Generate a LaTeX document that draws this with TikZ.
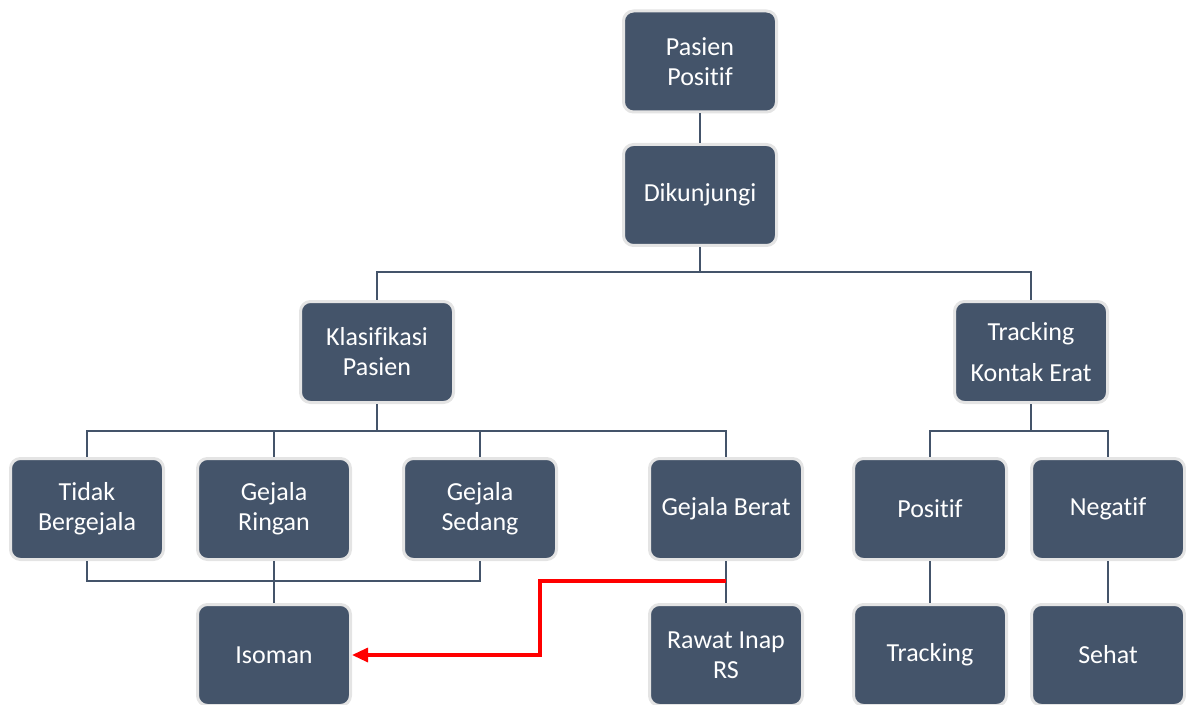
\documentclass[tikz,border=0pt]{standalone}
\usepackage{fontspec}
\setmainfont[Ligatures=NoCommon]{Carlito}
\usepackage{xcolor}
\usetikzlibrary{arrows.meta}
\definecolor{slate}{HTML}{44546A}
\definecolor{rim}{HTML}{E4E4E4}
\tikzstyle{box}=[
    draw = rim,
    line width = 1.5pt,
    fill = slate,
    text = white,
    rounded corners = 5pt,
    minimum width = 76.5pt,
    minimum height = 50.5pt,
    align = center,
    font = \fontsize{13}{15}\selectfont
]
\tikzstyle{link}=[
    draw = slate,
    line width = 1pt
]

\begin{document}
\begin{tikzpicture}[x=0.5pt, y=-0.5pt, redline/.style = {draw = red, line width = 1.6pt, -{Triangle[length=8pt, width=7pt]}}]
        \useasboundingbox (0,0) rectangle (1186,705);

        \node[box] (pasien) at (700,61.5) {Pasien\\Positif};
        \node[box] (kunjung) at (700,195) {Dikunjungi};
        \node[box] (klas) at (377,352) {Klasifikasi\\Pasien};
        \node[box] (kontak) at (1031,352) {Tracking\\[5.5pt]Kontak Erat};

        \node[box] (tidak) at (87,509) {Tidak\\Bergejala};
        \node[box] (ringan) at (274,509) {Gejala\\Ringan};
        \node[box] (sedang) at (480,509) {Gejala\\Sedang};
        \node[box] (berat) at (726,509) {Gejala Berat};
        \node[box] (positif) at (930,509) {Positif};
        \node[box] (negatif) at (1108,509) {Negatif};

        \node[box] (isoman) at (274,655) {Isoman};
        \node[box] (rawat) at (726,655) {Rawat Inap\\RS};
        \node[box] (tracking) at (930,655) {Tracking};
        \node[box] (sehat) at (1108,655) {Sehat};

        \coordinate (top) at (700,272);
        \coordinate (mid) at (377,431);
        \coordinate (side) at (1031,431);
        \coordinate (low) at (274,581);
        \coordinate (split) at (726,581);
        \coordinate (bend) at (540,655);

        \draw[link] (pasien) -- (kunjung);
        \draw[link] (kunjung) -- (top);
        \draw[link] (top) -| (klas);
        \draw[link] (top) -| (kontak);

        \draw[link] (klas) -- (mid);
        \foreach \n in {tidak, ringan, sedang, berat}
            \draw[link] (mid) -| (\n);
        \draw[link] (kontak) -- (side);
        \draw[link] (side) -| (positif);
        \draw[link] (side) -| (negatif);

        \draw[link] (tidak) |- (low);
        \draw[link] (sedang) |- (low);
        \draw[link] (ringan) -- (isoman);
        \draw[link] (berat) -- (rawat);
        \draw[link] (positif) -- (tracking);
        \draw[link] (negatif) -- (sehat);

        \draw[redline] (split) -| (bend) -- (isoman);

    \end{tikzpicture}
\end{document}
